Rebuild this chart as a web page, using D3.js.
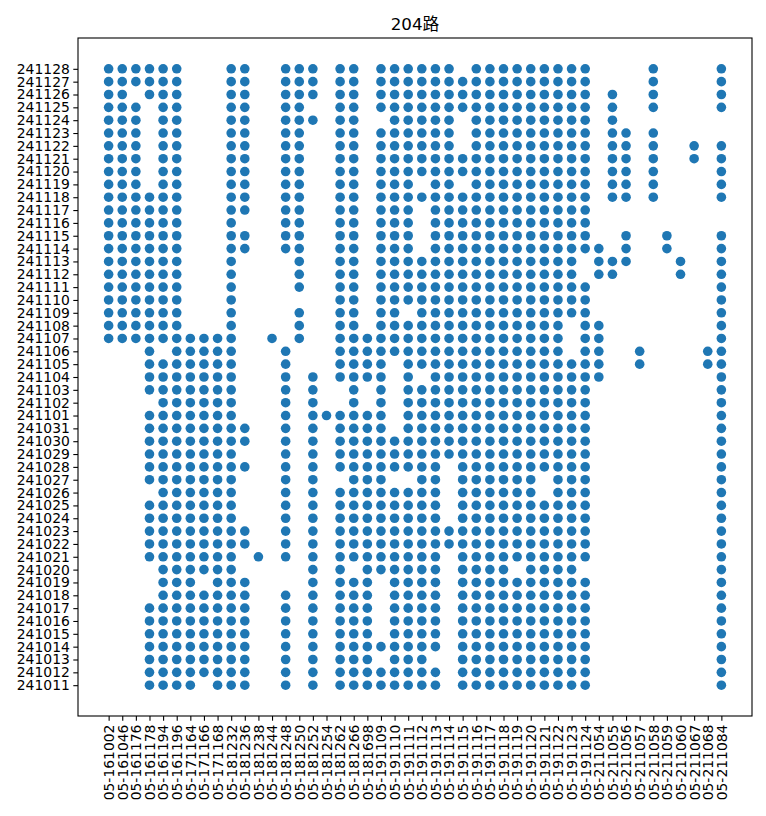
<!DOCTYPE html>
<html>
<head>
<meta charset="utf-8">
<script src="https://cdn.jsdelivr.net/npm/d3@7"></script>
<style>
    body { margin: 0; background: #fff; }
    text { font-family: "DejaVu Sans", "Noto Sans CJK SC", sans-serif; fill: #000; }
</style>
</head>
<body>
<div id="chart"></div>
<script>
// Bus line 204: which vehicle ran on which day

const vehicles = [
    '05-161002', '05-161046', '05-161176', '05-161178', '05-161194', '05-161196',
    '05-171164', '05-171166', '05-171168', '05-181232', '05-181236', '05-181238',
    '05-181244', '05-181248', '05-181250', '05-181252', '05-181254', '05-181262',
    '05-181266', '05-181698', '05-191109', '05-191110', '05-191111', '05-191112',
    '05-191113', '05-191114', '05-191115', '05-191116', '05-191117', '05-191118',
    '05-191119', '05-191120', '05-191121', '05-191122', '05-191123', '05-191124',
    '05-211054', '05-211055', '05-211056', '05-211057', '05-211058', '05-211059',
    '05-211060', '05-211067', '05-211068', '05-211084'
];

const octDates = [
    '241011', '241012', '241013', '241014', '241015', '241016', '241017',
    '241018', '241019', '241020', '241021', '241022', '241023', '241024',
    '241025', '241026', '241027', '241028', '241029', '241030', '241031'
];

const novDates = [
    '241101', '241102', '241103', '241104', '241105', '241106', '241107',
    '241108', '241109', '241110', '241111', '241112', '241113', '241114',
    '241115', '241116', '241117', '241118', '241119', '241120', '241121',
    '241122', '241123', '241124', '241125', '241126', '241127', '241128'
];

// vehicle indices seen on each October date
const octRuns = [
    [3,4,5,6,8,9,10,13,15,17,18,19,20,21,22,23,24,26,27,28,29,30,31,32,33,34,35,45],
    [3,4,5,6,7,8,9,10,13,15,17,18,19,20,21,22,23,24,26,27,28,29,30,31,32,33,34,35,45],
    [3,4,5,6,7,8,9,10,13,15,17,18,19,21,22,23,26,27,28,29,30,31,32,33,34,35,45],
    [3,4,5,6,7,8,9,10,13,15,17,18,19,20,21,22,23,24,26,27,28,29,30,31,32,33,34,35,45],
    [3,4,5,6,7,8,9,10,13,15,17,18,19,21,22,23,24,26,27,28,29,30,31,32,33,34,35,45],
    [3,4,5,6,7,8,9,10,13,15,17,18,19,21,22,23,24,26,27,28,29,30,31,32,33,34,35,45],
    [3,4,5,6,7,8,9,10,13,15,17,18,19,21,22,23,24,26,27,28,29,30,31,32,33,34,35,45],
    [4,5,6,7,8,9,10,13,15,17,18,19,21,22,23,24,26,27,28,29,30,31,32,33,34,35,45],
    [4,5,6,8,9,10,15,17,18,19,21,22,23,24,26,27,28,29,30,31,32,33,34,35,45],
    [4,5,6,7,8,9,15,17,19,20,21,22,23,24,26,27,28,29,31,32,33,34,45],
    [3,4,5,6,7,8,9,11,13,15,17,18,19,20,21,22,23,24,26,27,28,29,30,31,32,33,34,35,45],
    [3,4,5,6,7,8,9,10,13,15,17,18,19,20,21,22,23,24,25,26,27,28,29,30,31,32,33,34,35,45],
    [3,4,5,6,7,8,9,10,13,15,17,18,19,20,21,22,23,24,25,26,27,28,29,30,31,32,33,34,35,45],
    [3,4,5,6,7,8,9,13,15,17,18,19,20,21,22,23,24,26,27,28,29,30,31,32,33,34,35,45],
    [3,4,5,6,7,8,9,13,15,17,18,19,20,21,22,23,24,26,27,28,29,30,31,32,33,34,35,45],
    [4,5,6,7,8,9,13,15,17,18,19,20,21,22,23,24,26,27,28,29,30,31,33,34,35,45],
    [3,4,5,6,7,8,9,13,15,18,19,20,23,24,26,27,28,29,30,31,33,34,35,45],
    [3,4,5,6,7,8,9,10,13,15,17,18,19,20,21,22,23,24,26,27,28,29,30,31,32,33,34,35,45],
    [3,4,5,6,7,8,9,13,15,17,18,19,20,21,22,23,24,25,26,27,28,29,30,31,32,33,34,35,45],
    [3,4,5,6,7,8,9,10,13,15,17,18,19,20,21,22,23,24,25,26,27,28,29,30,31,32,33,34,35,45],
    [3,4,5,6,7,8,9,10,13,15,17,18,19,20,22,23,24,25,26,27,28,29,30,31,32,33,34,35,45]
];

// vehicle indices seen on each November date
const novRuns = [
    [3,4,5,6,7,8,9,13,15,16,17,18,19,20,22,23,24,25,26,27,28,29,30,31,32,33,34,35,45],
    [4,5,6,7,8,9,13,15,18,20,22,23,24,25,26,27,28,29,30,31,32,33,34,35,45],
    [3,4,5,6,7,8,9,13,15,18,20,22,23,24,25,26,27,28,29,30,31,32,33,34,35,45],
    [3,4,5,6,7,8,9,13,15,17,18,19,20,22,24,25,26,27,28,29,30,31,32,33,34,35,36,45],
    [3,4,5,6,7,8,9,13,17,18,19,20,22,23,24,25,26,27,28,29,30,31,32,33,34,35,36,39,44,45],
    [3,5,6,7,8,9,13,17,18,19,20,21,22,23,24,25,26,27,28,29,30,31,32,33,35,36,39,44,45],
    [0,1,2,3,4,5,6,7,8,9,12,14,17,18,19,20,21,22,23,24,25,26,27,28,29,30,31,32,33,35,36,45],
    [0,1,2,3,4,5,9,14,17,18,20,21,22,23,24,25,26,27,28,29,30,31,32,33,35,36,45],
    [0,1,2,3,4,5,9,14,17,18,20,21,23,24,25,26,27,28,29,30,31,32,33,34,35,45],
    [0,1,2,3,4,5,9,17,18,20,21,22,23,24,25,26,27,28,29,30,31,32,33,34,35,45],
    [0,1,2,3,4,5,9,14,17,18,20,21,22,23,24,25,26,27,28,29,30,31,32,33,34,35,45],
    [0,1,2,3,4,5,9,14,17,18,20,21,22,23,24,25,26,27,28,29,30,31,32,33,34,36,37,42,45],
    [0,1,2,3,4,5,9,14,17,18,20,21,22,23,24,25,26,27,28,29,30,31,32,33,34,36,37,38,42,45],
    [0,1,2,3,4,5,9,10,13,14,17,18,20,21,22,24,25,26,27,28,29,30,31,32,33,34,35,36,38,41,45],
    [0,1,2,3,4,5,9,10,13,14,17,18,20,21,22,24,25,26,27,28,29,30,31,32,33,34,35,38,41,45],
    [0,1,2,3,4,5,9,13,14,17,18,20,21,22,24,25,26,27,28,29,30,31,32,33,34,35],
    [0,1,2,3,4,5,9,10,13,14,17,18,20,21,22,24,25,26,27,28,29,30,31,32,33,34,35],
    [0,1,2,3,4,5,9,10,13,14,17,18,20,21,22,23,24,25,26,27,28,29,30,31,32,33,34,35,37,38,40,45],
    [0,1,2,4,5,9,10,13,14,17,18,20,21,22,24,25,27,28,29,30,31,32,33,34,35,37,38,40,45],
    [0,1,2,4,5,9,10,13,14,17,18,20,21,22,23,24,25,26,27,28,29,30,31,32,33,34,35,37,38,40,45],
    [0,1,2,4,5,9,10,13,14,17,18,20,21,22,23,24,25,26,27,28,29,30,31,32,33,34,35,37,38,40,43,45],
    [0,1,2,4,5,9,10,13,14,17,18,20,21,22,23,24,25,27,28,29,30,31,32,33,34,35,37,38,40,43,45],
    [0,1,2,4,5,9,10,13,14,17,18,20,21,22,23,24,25,27,28,29,30,31,32,33,34,35,37,38,40],
    [0,1,2,4,5,9,10,13,14,15,17,18,21,22,23,24,25,27,28,29,30,31,32,33,34,35,37],
    [0,1,2,4,5,9,10,13,14,17,18,20,21,22,23,24,25,26,27,28,29,30,31,32,33,34,35,37,40,45],
    [0,1,3,4,5,9,10,13,14,15,17,18,20,21,22,23,24,25,26,27,28,29,30,31,32,33,34,35,37,40,45],
    [0,1,2,3,4,5,9,10,13,14,15,17,18,20,21,22,23,24,25,26,27,28,29,30,31,32,33,34,35,40,45],
    [0,1,2,3,4,5,9,10,13,14,15,17,18,20,21,22,23,24,25,27,28,29,30,31,32,33,34,35,40,45]
];

const lineName = '204路';

function drawChart() {
    const width = 766;
    const height = 816;
    const plot = { left: 78, right: 752, top: 38, bottom: 716 };

    const dates = octDates.concat(novDates);
    const runs = octRuns.concat(novRuns);

    // flatten into points
    const points = [];
    dates.forEach((d, i) => {
        runs[i].forEach(v => points.push({ vehicle: vehicles[v], date: d }));
    });

    const svg = d3.select('#chart')
        .append('svg')
        .attr('width', width)
        .attr('height', height);

    // matplotlib-like categorical margins
    const x = d3.scalePoint()
        .domain(vehicles)
        .range([plot.left, plot.right])
        .padding(2.25);

    const y = d3.scalePoint()
        .domain(dates)
        .range([plot.bottom, plot.top])
        .padding(2.4);

    // dots
    svg.append('g')
        .selectAll('circle')
        .data(points)
        .join('circle')
        .attr('cx', d => x(d.vehicle))
        .attr('cy', d => y(d.date))
        .attr('r', 4.8)
        .attr('fill', '#1f77b4');

    // x axis with vertical labels
    const xAxis = svg.append('g')
        .attr('transform', `translate(0, ${plot.bottom})`)
        .call(d3.axisBottom(x).tickSize(4.7).tickPadding(3.5));
    xAxis.select('.domain').remove();
    xAxis.selectAll('line').attr('stroke', '#000').attr('stroke-width', 1.1);
    xAxis.selectAll('text')
        .attr('transform', 'rotate(-90)')
        .attr('text-anchor', 'end')
        .attr('x', -8.6)
        .attr('y', 0)
        .attr('dy', '0.35em')
        .attr('font-size', '13.9px')
        .attr('font-family', null);

    // y axis
    const yAxis = svg.append('g')
        .attr('transform', `translate(${plot.left}, 0)`)
        .call(d3.axisLeft(y).tickSize(4.7).tickPadding(3.5));
    yAxis.select('.domain').remove();
    yAxis.selectAll('line').attr('stroke', '#000').attr('stroke-width', 1.1);
    yAxis.selectAll('text')
        .attr('font-size', '13.9px')
        .attr('font-family', null);

    // frame
    svg.append('rect')
        .attr('x', plot.left)
        .attr('y', plot.top)
        .attr('width', plot.right - plot.left)
        .attr('height', plot.bottom - plot.top)
        .attr('fill', 'none')
        .attr('stroke', '#000')
        .attr('stroke-width', 1.1);

    // title
    svg.append('text')
        .attr('x', (plot.left + plot.right) / 2)
        .attr('y', plot.top - 8.5)
        .attr('text-anchor', 'middle')
        .attr('font-size', '16.7px')
        .text(lineName);
}

drawChart();
</script>
</body>
</html>
